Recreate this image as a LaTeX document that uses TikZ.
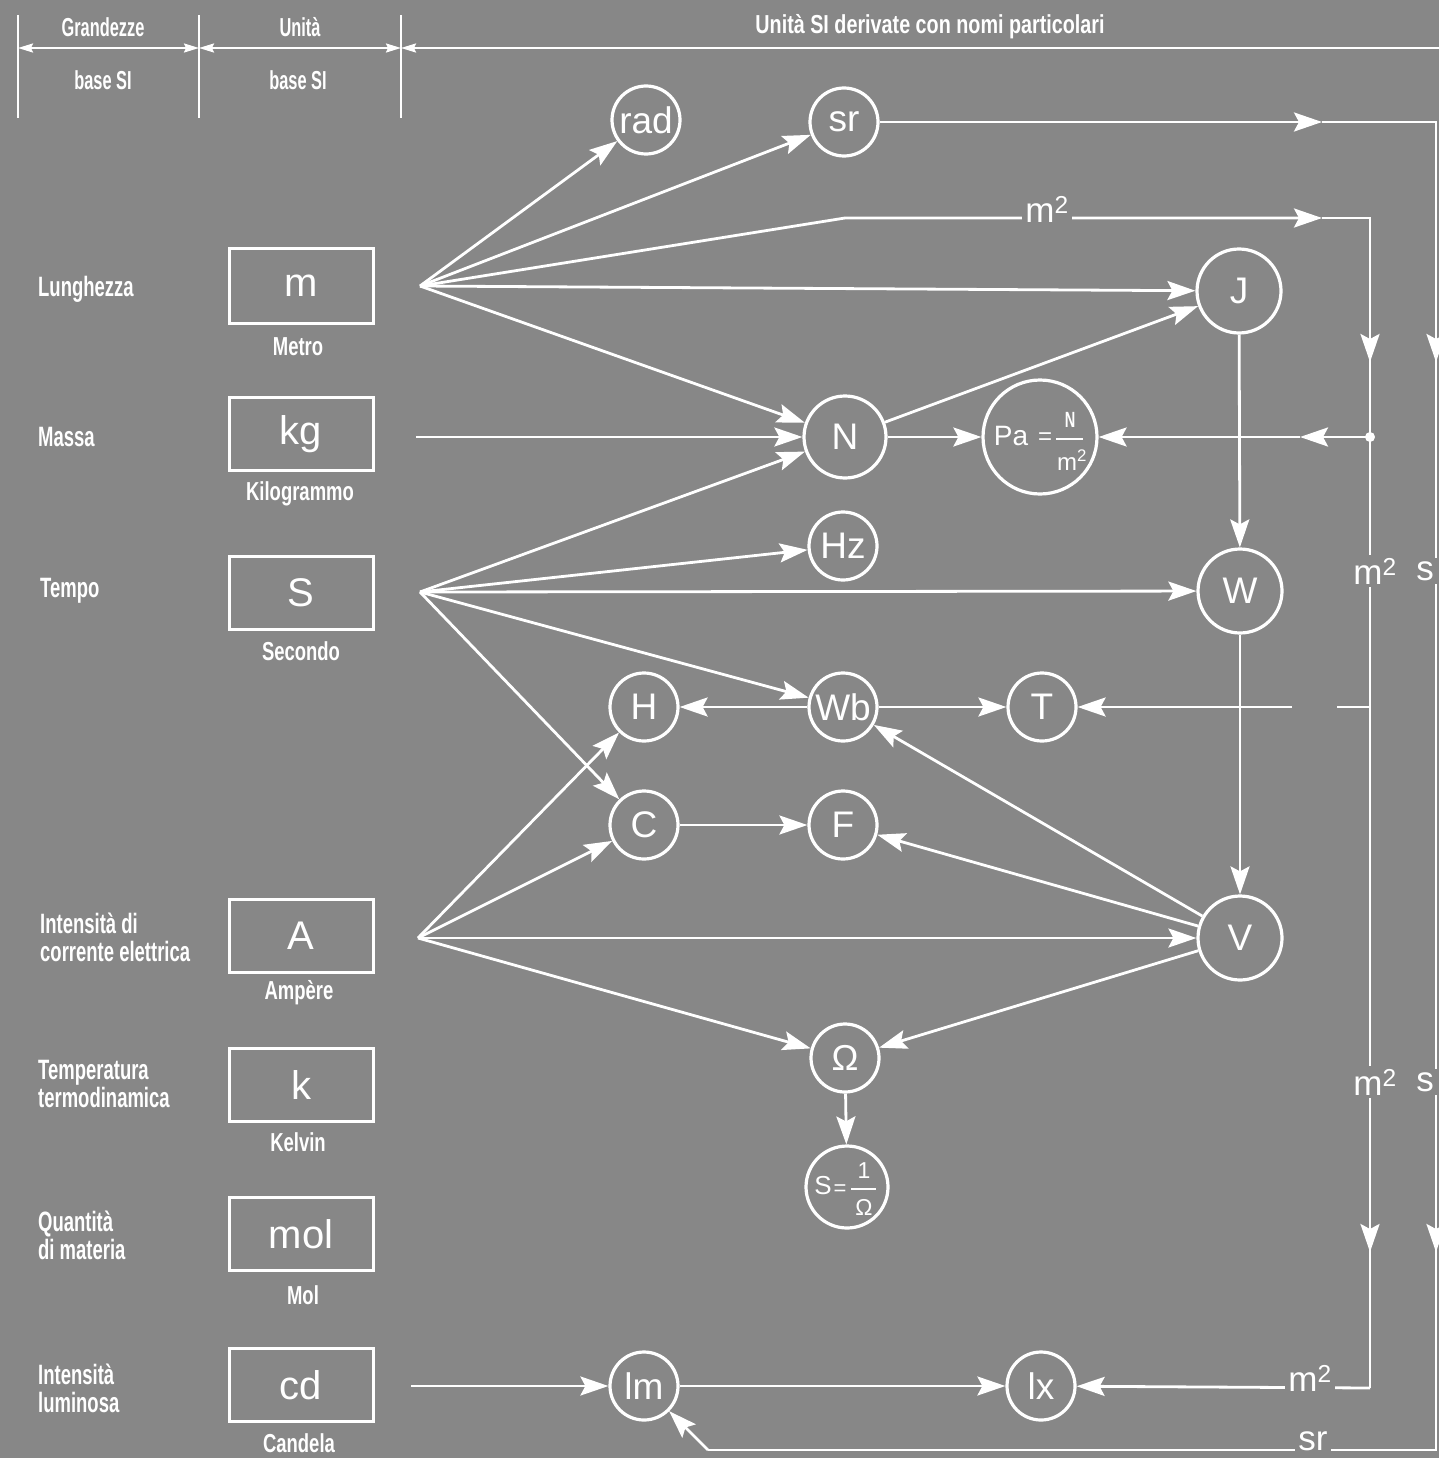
\documentclass[tikz,border=0pt]{standalone}
\usepackage{fontspec}
\setmainfont{Liberation Sans}
\newfontfamily\cond[FakeStretch=0.66]{Liberation Sans Bold}
\newfontfamily\condh[FakeStretch=0.63]{Liberation Sans Bold}
\newfontfamily\condw[FakeStretch=0.71]{Liberation Sans Bold}
\newfontfamily\condt[FakeStretch=0.76]{Liberation Sans Bold}
\usetikzlibrary{arrows.meta}
\definecolor{bg}{RGB}{135,135,135}
\begin{document}
\begin{tikzpicture}[x=1pt,y=-1pt,
 ln/.style={draw=white,line width=2.8pt},
 ar/.style={-{Stealth[length=28pt,width=19pt,inset=5pt]}},
 hdrarr/.style={{Stealth[length=15pt,width=9pt,inset=2pt]}-{Stealth[length=15pt,width=9pt,inset=2pt]}},
 hdrl/.style={{Stealth[length=15pt,width=9pt,inset=2pt]}-},
 unitbox/.style={draw=white,line width=3pt,minimum width=144pt,minimum height=73pt,inner sep=0pt,text=white,font=\fontsize{40}{40}\selectfont},
 circ/.style={circle,draw=white,line width=3.2pt,minimum size=68pt,inner sep=0pt,text=white,font=\fontsize{37}{37}\selectfont},
 bigc/.style={circ,minimum size=84pt},
 lab/.style={text=white,font=\cond\fontsize{28}{28}\selectfont,align=left,anchor=west,inner sep=0pt},
 hdr/.style={text=white,font=\condh\fontsize{26}{28}\selectfont,inner sep=0pt},
 sublab/.style={text=white,font=\condw\fontsize{26}{28}\selectfont,inner sep=0pt},
 onl/.style={fill=bg,text=white,inner sep=3pt,font=\fontsize{35}{35}\selectfont},
 small/.style={text=white,inner sep=0pt},
]
\useasboundingbox (0,0) rectangle (1439,1458);
\fill[bg] (0,0) rectangle (1439,1458);

% ---------- header ----------
\coordinate (v1t) at (18,15);  \coordinate (v1b) at (18,118);
\coordinate (v2t) at (199,15); \coordinate (v2b) at (199,118);
\coordinate (v3t) at (401,15); \coordinate (v3b) at (401,118);
\draw[white,line width=1.6pt] (v1t) -- (v1b) (v2t) -- (v2b) (v3t) -- (v3b);
\coordinate (h1) at (18,48); \coordinate (h2) at (199,48); \coordinate (h3) at (401,48); \coordinate (h4) at (1439,48);
\draw[white,line width=2pt,hdrarr] (h1) -- (h2);
\draw[white,line width=2pt,hdrarr] (h2) -- (h3);
\draw[white,line width=2pt,hdrl] (h3) -- (h4);
\node[hdr] (g1) at (103,27) {Grandezze};
\node[hdr] (g2) at (103,80) {base SI};
\node[hdr] (u1) at (300,27) {Unità};
\node[hdr] (u2) at (298,80) {base SI};
\node[hdr,font=\condt\fontsize{26}{28}\selectfont] (u3) at (930,27) {Unità SI derivate con nomi particolari};

% ---------- left labels ----------
\node[lab] (l1) at (38,289) {Lunghezza};
\node[lab] (l2) at (38,437) {Massa};
\node[lab] (l3) at (40,591) {Tempo};
\node[lab] (l4) at (40,937) {Intensità di\\corrente elettrica};
\node[lab] (l5) at (38,1084) {Temperatura\\termodinamica};
\node[lab] (l6) at (38,1235) {Quantità\\di materia};
\node[lab] (l7) at (38,1388) {Intensità\\luminosa};

% ---------- base unit boxes ----------
\node[unitbox,minimum height=75pt] (bm) at (301,286) {m};
\node[unitbox] (bkg) at (301,434) {kg};
\node[unitbox] (bs) at (301,593) {S};
\node[unitbox] (ba) at (301,936) {A};
\node[unitbox] (bk) at (301,1085) {k};
\node[unitbox] (bmol) at (301,1234) {mol};
\node[unitbox] (bcd) at (301,1385) {cd};
\node[sublab] (s1) at (298,347) {Metro};
\node[sublab] (s2) at (300,494) {Kilogrammo};
\node[sublab] (s3) at (301,651) {Secondo};
\node[sublab] (s4) at (299,993) {Ampère};
\node[sublab] (s5) at (298,1142) {Kelvin};
\node[sublab] (s6) at (303,1295) {Mol};
\node[sublab] (s7) at (299,1443) {Candela};

% ---------- derived unit circles ----------
\node[circ] (rad) at (646,120) {rad};
\node[circ] (sr) at (844,122) {sr};
\node[bigc] (J) at (1239,291) {J};
\node[circ,minimum size=82pt] (N) at (845,437) {N};
\node[circ,minimum size=114pt] (Pa) at (1040,437) {};
\node[circ] (Hz) at (843,546) {Hz};
\node[bigc] (W) at (1240,591) {W};
\node[circ] (H) at (644,707) {H};
\node[circ] (Wb) at (843,707) {Wb};
\node[circ] (T) at (1042,707) {T};
\node[circ] (C) at (644,825) {C};
\node[circ] (F) at (843,825) {F};
\node[bigc] (V) at (1240,938) {V};
\node[circ,font=\fontsize{36}{36}\selectfont] (Om) at (845,1058) {Ω};
\node[circ,minimum size=82pt] (Sie) at (847,1187) {};
\node[circ] (lm) at (644,1386) {lm};
\node[circ] (lx) at (1041,1386) {lx};

% Pa = N / m2
\node[small,font=\fontsize{28}{28}\selectfont] (pa1) at (1011,436) {Pa};
\node[small,font=\fontsize{24}{24}\selectfont] (pa2) at (1045,439) {=};
\coordinate (pab1) at (1056,439); \coordinate (pab2) at (1083,439);
\draw[white,line width=1.6pt] (pab1) -- (pab2);
\node[small,font=\cond\fontsize{22}{22}\selectfont] (pa3) at (1070,420) {N};
\node[small,font=\fontsize{24}{24}\selectfont] (pa4) at (1072,460) {m\textsuperscript{2}};

% S = 1 / Omega
\node[small,font=\fontsize{26}{26}\selectfont] (si1) at (823,1186) {S};
\node[small,font=\fontsize{22}{22}\selectfont] (si2) at (840,1190) {=};
\coordinate (sib1) at (851,1189); \coordinate (sib2) at (876,1189);
\draw[white,line width=1.6pt] (sib1) -- (sib2);
\node[small,font=\fontsize{23}{23}\selectfont] (si3) at (864,1171) {1};
\node[small,font=\fontsize{23}{23}\selectfont] (si4) at (864,1207) {Ω};

% ---------- fan points ----------
\coordinate (mf) at (420,286);
\coordinate (sf) at (420,592);
\coordinate (af) at (418,938);
\coordinate (kgl) at (416,437);
\coordinate (cdl) at (411,1386);

% from metre
\draw[ln,ar] (mf) -- (rad);
\draw[ln,ar] (mf) -- (sr);
\draw[ln,ar] (mf) -- (J);
\draw[ln,ar] (mf) -- (N);
\coordinate (mk) at (845,218);
\coordinate (a1) at (1322,218);
\coordinate (tr1) at (1370,218);
\draw[ln,ar] (mf) -- (mk) -- (a1);
% from kg
\draw[ln,ar] (kgl) -- (N);
% from second
\draw[ln,ar] (sf) -- (N);
\draw[ln,ar] (sf) -- (Hz);
\draw[ln,ar] (sf) -- (W);
\draw[ln,ar] (sf) -- (Wb);
\draw[ln,ar] (sf) -- (C);
% from ampere
\draw[ln,ar] (af) -- (H);
\draw[ln,ar] (af) -- (C);
\draw[ln,ar] (af) -- (V);
\draw[ln,ar] (af) -- (Om);
% from candela
\draw[ln,ar] (cdl) -- (lm);

% derived relations
\draw[ln,ar] (N) -- (Pa);
\draw[ln,ar] (N) -- (J);
\draw[ln,ar] (J) -- (W);
\draw[ln,ar] (W) -- (V);
\draw[ln,ar] (Wb) -- (H);
\draw[ln,ar] (Wb) -- (T);
\draw[ln,ar] (C) -- (F);
\draw[ln,ar] (V) -- (Wb);
\draw[ln,ar] (V) -- (F);
\draw[ln,ar] (V) -- (Om);
\draw[ln,ar] (Om) -- (Sie);
\draw[ln,ar] (lm) -- (lx);

% ---------- right-hand m^2 line ----------
\coordinate (dot) at (1370,437);
\coordinate (jT) at (1370,707);
\coordinate (br1) at (1370,1388);
\coordinate (am1) at (1370,362);
\coordinate (am2) at (1370,1252);
\coordinate (apa) at (1300,437);
\coordinate (tg1) at (1337,707);
\coordinate (tg2) at (1292,707);
\draw[ln] (a1) -- (tr1) -- (br1);
\draw[ln,ar] (tr1) -- (am1);
\draw[ln,ar] (jT) -- (am2);
\draw[ln,ar] (br1) -- (lx);
\draw[ln,ar] (dot) -- (apa);
\draw[ln,ar] (apa) -- (Pa);
\fill[white] (dot) circle (5pt);
\draw[ln] (jT) -- (tg1);
\draw[ln,ar] (tg2) -- (T);

% ---------- right-hand s / sr line ----------
\coordinate (a2) at (1322,122);
\coordinate (tr2) at (1436,122);
\coordinate (br2) at (1436,1450);
\coordinate (bl2) at (708,1450);
\coordinate (as1) at (1436,362);
\coordinate (as2) at (1436,1252);
\draw[ln,ar] (sr) -- (a2);
\draw[ln] (a2) -- (tr2) -- (br2) -- (bl2);
\draw[ln,ar] (tr2) -- (as1);
\draw[ln,ar] (tr2) -- (as2);
\draw[ln,ar] (bl2) -- (lm);

% ---------- labels on lines ----------
\node[onl] (q1) at (1047,209) {m\textsuperscript{2}};
\node[onl] (q2) at (1375,571) {m\textsuperscript{2}};
\node[onl] (q3) at (1425,571) {s};
\node[onl] (q4) at (1375,1082) {m\textsuperscript{2}};
\node[onl] (q5) at (1425,1082) {s};
\node[onl] (q6) at (1310,1378) {m\textsuperscript{2}};
\node[onl] (q7) at (1313,1441) {sr};
\end{tikzpicture}
\end{document}
